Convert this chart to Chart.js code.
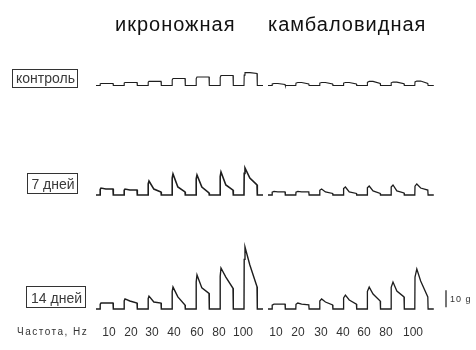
<!DOCTYPE html>
<html>
<head>
<meta charset="utf-8">
<script src="https://cdn.jsdelivr.net/npm/chart.js@4/dist/chart.umd.min.js"></script>
<style>
  html, body { margin: 0; padding: 0; background: #fff; }
  #wrap { width: 476px; height: 350px; }
</style>
</head>
<body>
<div id="wrap"><canvas id="chart" width="476" height="350"></canvas></div>
<script>
// stimulation frequencies (Hz) and groups
var freqLabels = ['10', '20', '30', '40', '60', '80', '100'];
var muscles = ['икроножная', 'камбаловидная'];
var groups = ['контроль', '7 дней', '14 дней'];
var axisName = 'Частота, Hz';
var scaleBarValue = 10; // g
var scaleBarLabel = '10 g';

// force in grams: peak, value mid-train, value at the end of the train
var ctrlGastroPeak = [1.2, 1.8, 2.4, 4.1, 5.0, 5.9, 7.6];
var ctrlGastroMid  = [1.2, 1.8, 2.4, 4.1, 5.0, 5.9, 7.6];
var ctrlGastroEnd  = [1.2, 1.8, 2.4, 4.1, 5.0, 5.9, 7.1];
var ctrlSoleusPeak = [1.2, 1.8, 1.8, 1.8, 2.4, 2.0, 2.6];
var ctrlSoleusMid  = [1.2, 1.8, 1.8, 1.8, 2.4, 2.0, 2.6];
var ctrlSoleusEnd  = [0.6, 0.9, 0.9, 0.9, 1.2, 1.0, 1.2];

var d7GastroPeak = [4.1, 3.5, 8.2, 12.4, 11.8, 13.5, 15.9];
var d7GastroMid  = [3.5, 2.9, 3.5, 4.7, 4.7, 5.9, 10.0];
var d7GastroEnd  = [3.5, 2.9, 1.8, 1.8, 1.2, 2.9, 5.9];
var d7SoleusPeak = [2.1, 2.1, 3.5, 4.7, 5.3, 5.9, 6.5];
var d7SoleusMid  = [1.8, 1.8, 1.8, 1.8, 2.4, 2.4, 4.1];
var d7SoleusEnd  = [1.8, 1.8, 0.9, 0.9, 0.9, 1.2, 2.9];

var d14GastroPeak = [3.5, 5.9, 7.6, 12.9, 20.0, 24.1, 36.5];
var d14GastroMid  = [3.5, 4.7, 4.1, 7.1, 12.4, 18.8, 25.9];
var d14GastroEnd  = [3.5, 3.5, 3.5, 2.4, 9.2, 12.2, 13.1];
var d14SoleusPeak = [2.9, 3.5, 5.9, 8.2, 12.9, 15.9, 23.5];
var d14SoleusMid  = [2.9, 2.9, 4.1, 5.3, 8.8, 10.6, 16.5];
var d14SoleusEnd  = [2.9, 2.4, 2.4, 2.9, 4.7, 7.1, 7.1];

// layout (time axis in arbitrary units, force axis in g)
var PX_PER_G = 1.7;
var rowBaselinePx = [85.5, 195, 309];
var bottomBaseline = rowBaselinePx[2];
var rowOffset = rowBaselinePx.map(function (p) { return (bottomBaseline - p) / PX_PER_G; });
var trainStart = [100, 272];
var trainStep = [24, 23.8];
var trainWidth = 13;
var riseTime = [1, 2];

function buildTrace(m, offset, peak, mid, end) {
  var pts = [{ x: trainStart[m] - 4, y: offset }];
  peak.forEach(function (p, i) {
    var t0 = trainStart[m] + i * trainStep[m];
    pts.push({ x: t0, y: offset });
    pts.push({ x: t0 + 0.2, y: offset + p * 0.8 });
    pts.push({ x: t0 + riseTime[m], y: offset + p });
    pts.push({ x: t0 + trainWidth * 0.45, y: offset + mid[i] });
    pts.push({ x: t0 + trainWidth, y: offset + end[i] });
    pts.push({ x: t0 + trainWidth + 0.3, y: offset });
  });
  var last = trainStart[m] + (peak.length - 1) * trainStep[m] + trainWidth;
  pts.push({ x: last + 6, y: offset });
  return pts;
}

var traces = [
  buildTrace(0, rowOffset[0], ctrlGastroPeak, ctrlGastroMid, ctrlGastroEnd),
  buildTrace(1, rowOffset[0], ctrlSoleusPeak, ctrlSoleusMid, ctrlSoleusEnd),
  buildTrace(0, rowOffset[1], d7GastroPeak, d7GastroMid, d7GastroEnd),
  buildTrace(1, rowOffset[1], d7SoleusPeak, d7SoleusMid, d7SoleusEnd),
  buildTrace(0, rowOffset[2], d14GastroPeak, d14GastroMid, d14GastroEnd),
  buildTrace(1, rowOffset[2], d14SoleusPeak, d14SoleusMid, d14SoleusEnd)
];
var traceWidths = [1.1, 1.1, 1.6, 1.3, 1.4, 1.3];

var datasets = traces.map(function (t, i) {
  return { data: t, borderColor: '#1e1e1e', borderWidth: traceWidths[i], pointRadius: 0, tension: 0, fill: false };
});
// 10 g calibration bar
datasets.push({
  data: [{ x: 446, y: rowOffset[2] + 1 }, { x: 446, y: rowOffset[2] + 1 + scaleBarValue }],
  borderColor: '#1a1a1a', borderWidth: 1.2, pointRadius: 0
});

var labelsPlugin = {
  id: 'labels',
  afterDraw: function (chart) {
    var ctx = chart.ctx;
    ctx.save();
    ctx.fillStyle = '#111';
    ctx.textBaseline = 'alphabetic';
    ctx.textAlign = 'left';
    ctx.font = '20px "Liberation Sans", Arial, sans-serif';
    ctx.letterSpacing = '1px';
    ctx.fillText(muscles[0], 115, 31);
    ctx.fillText(muscles[1], 268, 31);
    ctx.letterSpacing = '0px';
    ctx.textAlign = 'center';

    // group labels in boxes
    var boxes = [[12, 69, 65, 18], [27, 173, 50, 20], [26, 286, 59, 21]];
    ctx.font = '14px "Liberation Sans", Arial, sans-serif';
    groups.forEach(function (g, i) {
      var b = boxes[i];
      ctx.strokeStyle = '#333';
      ctx.lineWidth = 1;
      ctx.strokeRect(b[0] + 0.5, b[1] + 0.5, b[2], b[3]);
      ctx.fillStyle = '#3a3a3a';
      ctx.fillText(g, b[0] + b[2] / 2 + 1, b[1] + b[3] - 4);
    });

    // frequency labels
    var xs = [[109, 131, 152, 174, 197, 219, 243], [276, 298, 321, 343, 364, 386, 413]];
    ctx.font = '12px "Liberation Sans", Arial, sans-serif';
    ctx.fillStyle = '#333';
    xs.forEach(function (row) {
      row.forEach(function (x, i) { ctx.fillText(freqLabels[i], x, 336); });
    });

    ctx.textAlign = 'left';
    ctx.font = '10px "Liberation Sans", Arial, sans-serif';
    ctx.letterSpacing = '1.5px';
    ctx.fillText(axisName, 17, 335);
    ctx.font = '9px "Liberation Sans", Arial, sans-serif';
    ctx.letterSpacing = '1px';
    ctx.fillText(scaleBarLabel, 450, 302);
    ctx.restore();
  }
};

new Chart(document.getElementById('chart').getContext('2d'), {
  type: 'line',
  data: { datasets: datasets },
  options: {
    responsive: false,
    animation: false,
    layout: { padding: 0 },
    plugins: { legend: { display: false }, tooltip: { enabled: false } },
    scales: {
      x: { type: 'linear', min: 0, max: 476, display: false },
      y: { type: 'linear', min: -(350 - bottomBaseline) / PX_PER_G, max: bottomBaseline / PX_PER_G, display: false }
    }
  },
  plugins: [labelsPlugin]
});
</script>
</body>
</html>
